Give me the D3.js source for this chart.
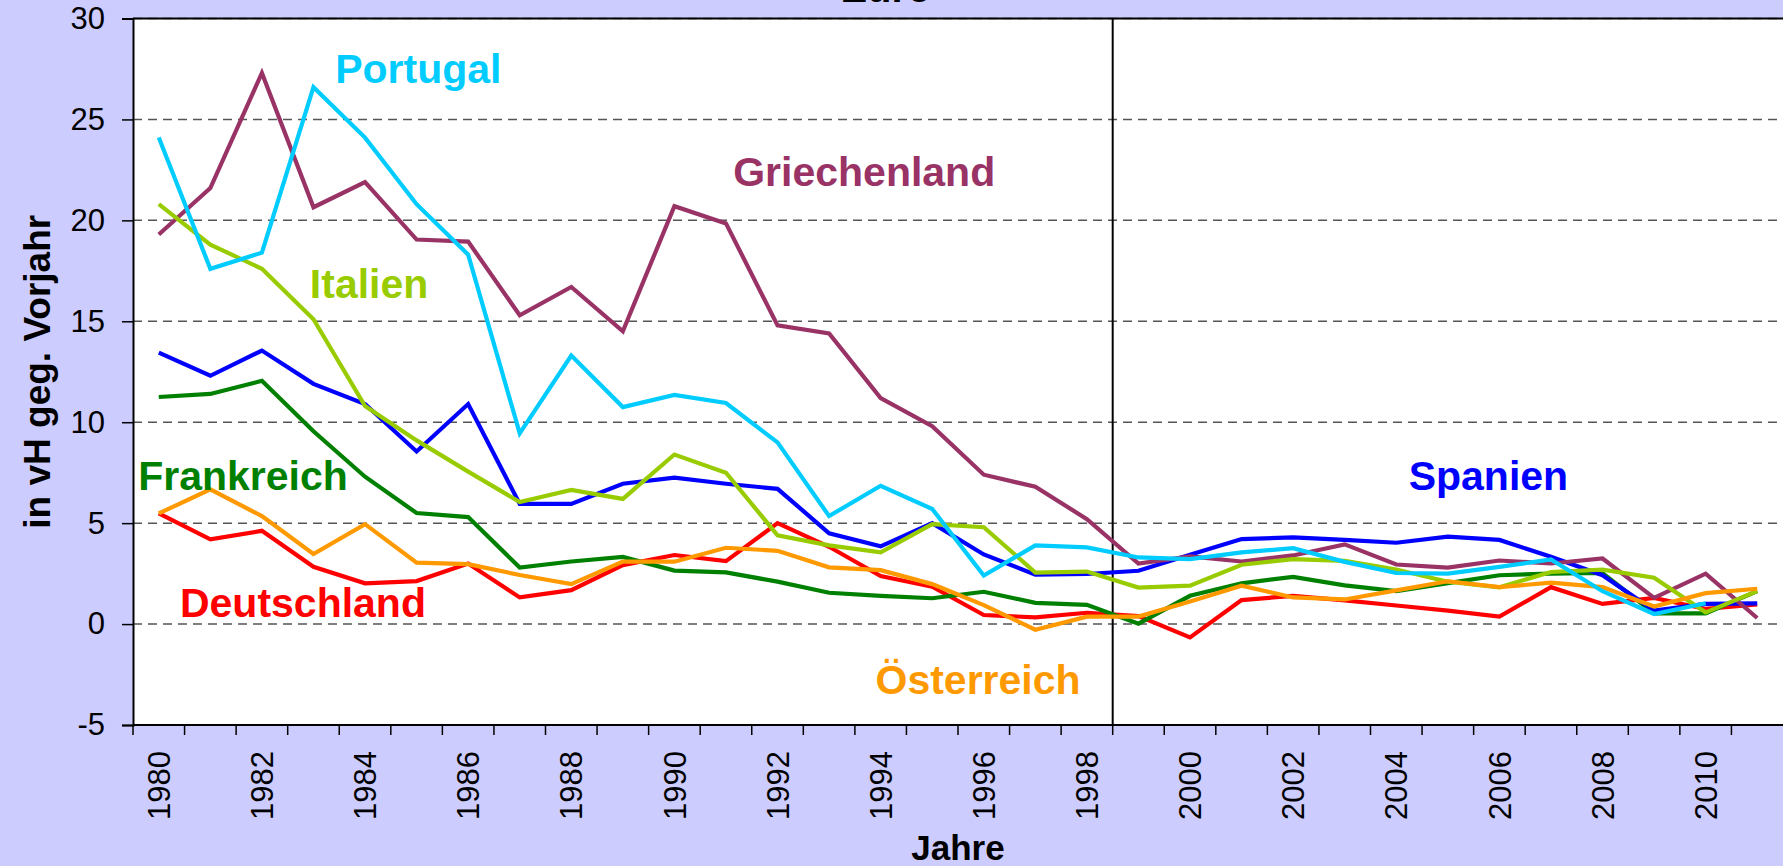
<!DOCTYPE html>
<html>
<head>
<meta charset="utf-8">
<script src="https://cdn.jsdelivr.net/npm/d3@7"></script>
<style>
  body { margin: 0; background: #ccccff; overflow: hidden; }
  text { font-family: "Liberation Sans", Arial, sans-serif; }
</style>
</head>
<body>
<div id="wrapper"></div>
<script>
/* DATA */
const years = [1980, 1981, 1982, 1983, 1984, 1985, 1986, 1987, 1988, 1989,
  1990, 1991, 1992, 1993, 1994, 1995, 1996, 1997, 1998, 1999,
  2000, 2001, 2002, 2003, 2004, 2005, 2006, 2007, 2008, 2009, 2010, 2011];

const deutschland = [5.48, 4.2, 4.62, 2.84, 2.02, 2.13, 3.0, 1.32, 1.68, 2.92,
  3.42, 3.12, 5.0, 3.83, 2.38, 1.85, 0.45, 0.33, 0.56, 0.4,
  -0.66, 1.19, 1.4, 1.17, 0.92, 0.67, 0.37, 1.83, 1.0, 1.3, 0.75, 0.97];
const frankreich = [11.25, 11.4, 12.05, 9.55, 7.3, 5.5, 5.3, 2.8, 3.1, 3.33,
  2.65, 2.56, 2.1, 1.55, 1.4, 1.28, 1.6, 1.05, 0.95, 0.02,
  1.4, 2.02, 2.34, 1.92, 1.63, 2.03, 2.42, 2.5, 2.53, 0.53, 0.53, 1.63];
const spanien = [13.45, 12.3, 13.55, 11.9, 10.9, 8.55, 10.9, 5.95, 5.95, 6.95,
  7.25, 6.95, 6.7, 4.5, 3.85, 5.0, 3.45, 2.45, 2.48, 2.64,
  3.43, 4.21, 4.29, 4.17, 4.03, 4.33, 4.17, 3.33, 2.42, 0.67, 1.0, 1.03];
const griechenland = [19.3, 21.6, 27.3, 20.65, 21.9, 19.05, 18.95, 15.3, 16.7, 14.5,
  20.7, 19.85, 14.8, 14.4, 11.2, 9.8, 7.4, 6.8, 5.2, 3.0,
  3.35, 3.1, 3.4, 3.95, 2.95, 2.8, 3.15, 3.0, 3.25, 1.3, 2.5, 0.3];
const italien = [20.8, 18.8, 17.6, 15.1, 10.8, 9.1, 7.55, 6.05, 6.65, 6.2,
  8.4, 7.5, 4.4, 3.9, 3.55, 4.95, 4.8, 2.55, 2.6, 1.81,
  1.9, 2.94, 3.22, 3.13, 2.7, 2.1, 1.82, 2.58, 2.7, 2.3, 0.58, 1.63];
const oesterreich = [5.48, 6.67, 5.35, 3.47, 4.95, 3.04, 2.97, 2.43, 1.98, 3.09,
  3.09, 3.78, 3.63, 2.81, 2.67, 1.98, 0.94, -0.28, 0.37, 0.37,
  1.12, 1.9, 1.32, 1.22, 1.67, 2.12, 1.83, 2.05, 1.83, 0.87, 1.53, 1.75];
const portugal = [24.1, 17.6, 18.4, 26.6, 24.1, 20.8, 18.3, 9.45, 13.3, 10.75,
  11.35, 10.95, 9.0, 5.35, 6.85, 5.7, 2.4, 3.9, 3.8, 3.3,
  3.22, 3.55, 3.76, 3.08, 2.53, 2.5, 2.83, 3.2, 1.63, 0.5, 1.03, null];

const yTicks = [-5, 0, 5, 10, 15, 20, 25, 30];
const gridValues = [0, 5, 10, 15, 20, 25, 30];
const labelYears = [1980, 1982, 1984, 1986, 1988, 1990, 1992, 1994, 1996, 1998,
  2000, 2002, 2004, 2006, 2008, 2010];
const euroStart = 1999;

const series = [
  { name: "Deutschland", values: deutschland, color: "#ff0000", at: [1980.41, 0.35] },
  { name: "Frankreich", values: frankreich, color: "#008000", at: [1979.6, 6.64] },
  { name: "Spanien", values: spanien, color: "#0000ff", at: [2004.24, 6.64] },
  { name: "Griechenland", values: griechenland, color: "#993366", at: [1991.14, 21.7] },
  { name: "Italien", values: italien, color: "#99cc00", at: [1982.93, 16.15] },
  { name: "Österreich", values: oesterreich, color: "#ff9900", at: [1993.9, -3.47] },
  { name: "Portugal", values: portugal, color: "#00ccff", at: [1983.42, 26.8] },
];

/* DIMENSIONS */
const width = 1783;
const height = 866;
const plot = { left: 133, right: 1783, top: 18.5, bottom: 725 };

/* SCALES */
const x = d3.scaleBand().domain(years).range([plot.left, plot.right]).padding(0);
const bw = x.bandwidth();
// fractional-year scale for label anchors (band centres)
const xYear = d3.scaleLinear()
  .domain([years[0], years[years.length - 1]])
  .range([x(years[0]) + bw / 2, x(years[years.length - 1]) + bw / 2]);
const y = d3.scaleLinear().domain([-5, 30]).range([plot.bottom, plot.top]);

const svg = d3.select("#wrapper").append("svg")
  .attr("width", width)
  .attr("height", height);

svg.append("rect").attr("width", width).attr("height", height).attr("fill", "#ccccff");

// title, mostly cut off at the top
svg.append("text")
  .attr("x", 886).attr("y", 1.5)
  .attr("text-anchor", "middle")
  .attr("font-size", 40).attr("font-weight", "bold")
  .text("Euro");

svg.append("rect")
  .attr("x", plot.left).attr("y", plot.top)
  .attr("width", plot.right - plot.left).attr("height", plot.bottom - plot.top)
  .attr("fill", "#ffffff");

/* GRID */
svg.append("g").selectAll("line")
  .data(gridValues)
  .join("line")
  .attr("x1", plot.left).attr("x2", plot.right)
  .attr("y1", d => y(d)).attr("y2", d => y(d))
  .attr("stroke", "#555")
  .attr("stroke-width", 1.5)
  .attr("stroke-dasharray", "9,6");

svg.append("line")
  .attr("x1", plot.left).attr("x2", plot.right)
  .attr("y1", y(30)).attr("y2", y(30))
  .attr("stroke", "#000").attr("stroke-width", 2);

// euro introduction marker
svg.append("line")
  .attr("x1", x(euroStart)).attr("x2", x(euroStart))
  .attr("y1", plot.top).attr("y2", plot.bottom)
  .attr("stroke", "#000").attr("stroke-width", 2);

/* LINES */
const lineGen = d3.line()
  .defined(d => d[1] != null)
  .x(d => x(d[0]) + bw / 2)
  .y(d => y(d[1]));

svg.append("g").selectAll("path")
  .data(series)
  .join("path")
  .attr("d", s => lineGen(years.map((yr, i) => [yr, s.values[i]])))
  .attr("fill", "none")
  .attr("stroke", s => s.color)
  .attr("stroke-width", 4.2)
  .attr("stroke-linejoin", "miter");

/* AXES */
const yAxis = d3.axisLeft(y)
  .tickValues(yTicks)
  .tickSize(11)
  .tickPadding(17)
  .tickFormat(d => String(d));

svg.append("g")
  .attr("transform", `translate(${plot.left},0)`)
  .call(yAxis)
  .call(g => g.select(".domain").attr("stroke", "#000").attr("stroke-width", 2))
  .call(g => g.selectAll(".tick line").attr("stroke", "#000").attr("stroke-width", 1.5))
  .call(g => g.selectAll(".tick text")
    .attr("font-size", 31)
    .attr("font-family", "Liberation Sans, Arial, sans-serif")
    .attr("fill", "#000"));

const xAxis = svg.append("g");
xAxis.append("line")
  .attr("x1", plot.left).attr("x2", plot.right)
  .attr("y1", plot.bottom).attr("y2", plot.bottom)
  .attr("stroke", "#000").attr("stroke-width", 2);

xAxis.selectAll(".xtick")
  .data(years)
  .join("line")
  .attr("class", "xtick")
  .attr("x1", d => x(d)).attr("x2", d => x(d))
  .attr("y1", plot.bottom).attr("y2", plot.bottom + 10)
  .attr("stroke", "#000").attr("stroke-width", 1.5);

xAxis.selectAll(".xlabel")
  .data(labelYears)
  .join("text")
  .attr("class", "xlabel")
  .attr("transform", d => `translate(${x(d) + bw / 2},${plot.bottom + 26}) rotate(-90)`)
  .attr("text-anchor", "end")
  .attr("dy", "0.36em")
  .attr("font-size", 31)
  .text(d => d);

/* AXIS TITLES */
svg.append("text")
  .attr("transform", `translate(50,${(plot.top + plot.bottom) / 2}) rotate(-90)`)
  .attr("text-anchor", "middle")
  .attr("font-size", 37)
  .attr("font-weight", "bold")
  .text("in vH geg. Vorjahr");

svg.append("text")
  .attr("x", (plot.left + plot.right) / 2)
  .attr("y", 860)
  .attr("text-anchor", "middle")
  .attr("font-size", 35)
  .attr("font-weight", "bold")
  .text("Jahre");

/* SERIES LABELS */
svg.append("g").selectAll("text")
  .data(series)
  .join("text")
  .attr("x", s => xYear(s.at[0]))
  .attr("y", s => y(s.at[1]))
  .attr("font-size", 41)
  .attr("font-weight", "bold")
  .attr("fill", s => s.color)
  .text(s => s.name);
</script>
</body>
</html>
